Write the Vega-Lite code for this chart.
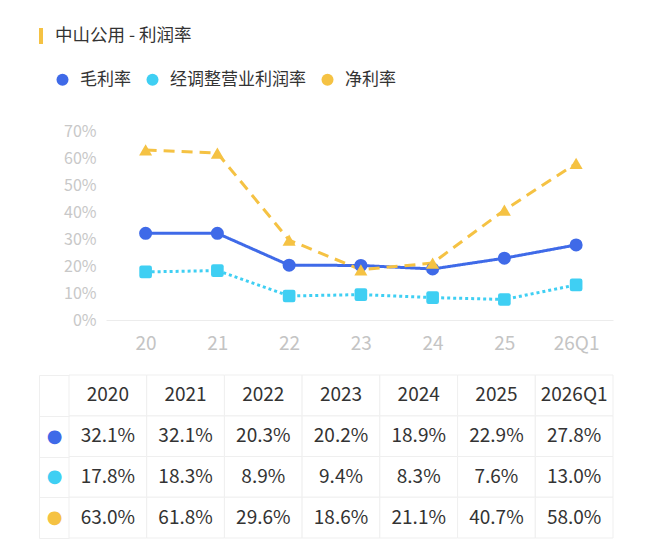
{
  "$schema": "https://vega.github.io/schema/vega-lite/v6.json",
  "background": "white",
  "padding": {"left": 38, "top": 26, "right": 0, "bottom": 0},
  "config": {
    "font": "Noto Sans CJK SC",
    "view": {"stroke": null},
    "axis": {"labelFont": "Noto Sans CJK SC"},
    "legend": {"labelFont": "Noto Sans CJK SC"}
  },
  "datasets": {
    "header": [{"label": "中山公用 - 利润率"}],
    "margins": [
      {"series": "经调整营业利润率", "year": "2020", "value": 0.178},
      {"series": "经调整营业利润率", "year": "2021", "value": 0.183},
      {"series": "经调整营业利润率", "year": "2022", "value": 0.089},
      {"series": "经调整营业利润率", "year": "2023", "value": 0.094},
      {"series": "经调整营业利润率", "year": "2024", "value": 0.083},
      {"series": "经调整营业利润率", "year": "2025", "value": 0.076},
      {"series": "经调整营业利润率", "year": "2026Q1", "value": 0.130},
      {"series": "毛利率", "year": "2020", "value": 0.321},
      {"series": "毛利率", "year": "2021", "value": 0.321},
      {"series": "毛利率", "year": "2022", "value": 0.203},
      {"series": "毛利率", "year": "2023", "value": 0.202},
      {"series": "毛利率", "year": "2024", "value": 0.189},
      {"series": "毛利率", "year": "2025", "value": 0.229},
      {"series": "毛利率", "year": "2026Q1", "value": 0.278},
      {"series": "净利率", "year": "2020", "value": 0.630},
      {"series": "净利率", "year": "2021", "value": 0.618},
      {"series": "净利率", "year": "2022", "value": 0.296},
      {"series": "净利率", "year": "2023", "value": 0.186},
      {"series": "净利率", "year": "2024", "value": 0.211},
      {"series": "净利率", "year": "2025", "value": 0.407},
      {"series": "净利率", "year": "2026Q1", "value": 0.580}
    ]
  },
  "columns": 1,
  "bounds": "flush",
  "spacing": 55,
  "concat": [
    {
      "width": 574,
      "height": 16,
      "data": {"name": "header"},
      "encoding": {
        "x": {"field": "label", "type": "nominal", "scale": {"type": "point", "padding": 0, "align": 0}, "axis": null}
      },
      "layer": [
        {"mark": {"type": "rule", "stroke": "#F5C243", "strokeWidth": 4, "xOffset": 2}},
        {"mark": {"type": "text", "align": "left", "baseline": "middle", "dx": 16, "fontSize": 17.5, "color": "#333333"},
         "encoding": {"text": {"field": "label"}}}
      ]
    },
    {
      "width": 574,
      "height": 221,
      "data": {"name": "margins"},
      "encoding": {
        "x": {"field": "year", "type": "ordinal", "sort": null,
              "scale": {"type": "point", "padding": 1.0, "align": 0.743},
              "axis": {"title": null, "labelExpr": "substring(datum.value, 2)", "domain": false, "ticks": false, "grid": false,
                       "labelColor": "#c4c4c4", "labelFontSize": 19, "labelPadding": 14, "labelAngle": 0}},
        "y": {"field": "value", "type": "quantitative",
              "scale": {"domain": [0, 0.8186], "nice": false},
              "axis": {"title": null, "values": [0, 0.1, 0.2, 0.3, 0.4, 0.5, 0.6, 0.7], "format": ".0%", "domain": false, "grid": false,
                       "offset": -67, "ticks": true, "tickSize": -507,
                       "tickColor": {"condition": {"test": "datum.value === 0", "value": "#ececec"}, "value": "rgba(255,255,255,0)"},
                       "labelColor": "#c8c8c8", "labelFontSize": 16, "labelPadding": 517}},
        "color": {"field": "series", "type": "nominal",
                  "scale": {"domain": ["毛利率", "经调整营业利润率", "净利率"], "range": ["#3F6AE8", "#3FCFF3", "#F5C243"]},
                  "legend": {"title": null, "orient": "none", "legendX": 15, "legendY": 43, "direction": "horizontal",
                             "padding": 0, "symbolType": "circle", "symbolSize": 144, "symbolStrokeWidth": 0, "symbolOpacity": 1,
                             "labelFontSize": 17, "labelColor": "#333333", "labelOffset": 9, "columnPadding": 13}}
      },
      "layer": [
        {
          "mark": {"type": "line", "strokeWidth": 3},
          "encoding": {
            "strokeDash": {"field": "series", "type": "nominal",
                           "scale": {"domain": ["毛利率", "经调整营业利润率", "净利率"], "range": [[1, 0], [3, 3], [11, 7]]},
                           "legend": null}
          }
        },
        {
          "transform": [{"filter": "datum.series == '经调整营业利润率'"}],
          "mark": {"type": "point", "filled": true, "opacity": 1, "size": 160, "strokeWidth": 0,
                   "shape": "M-0.65,-1H0.65Q1,-1,1,-0.65V0.65Q1,1,0.65,1H-0.65Q-1,1,-1,0.65V-0.65Q-1,-1,-0.65,-1Z"}
        },
        {
          "transform": [{"filter": "datum.series == '毛利率'"}],
          "mark": {"type": "point", "filled": true, "opacity": 1, "size": 170, "strokeWidth": 0, "shape": "circle"}
        },
        {
          "transform": [{"filter": "datum.series == '净利率'"}],
          "mark": {"type": "point", "filled": true, "opacity": 1, "size": 170, "strokeWidth": 0, "shape": "triangle-up"}
        }
      ]
    },
    {
      "width": 574,
      "height": 163,
      "data": {"name": "margins"},
      "encoding": {
        "x": {"field": "year", "type": "ordinal", "sort": null,
              "scale": {"type": "band", "paddingInner": 0, "paddingOuter": 0.193, "align": 1}, "axis": null},
        "y": {"field": "series", "type": "nominal",
              "scale": {"type": "band", "domain": ["年份", "毛利率", "经调整营业利润率", "净利率"], "paddingInner": 0, "paddingOuter": 0},
              "axis": {"title": null, "orient": "left", "domain": true, "domainColor": "#efefef",
                       "ticks": true, "tickBand": "extent", "tickSize": -30, "tickColor": "#efefef",
                       "labelExpr": "indexof(['毛利率', '经调整营业利润率', '净利率'], datum.value) >= 0 ? '●' : ''",
                       "labelAlign": "center", "labelBaseline": "middle",
                       "labelPadding": 15, "labelFontSize": 18, "labelFont": "DejaVu Sans",
                       "labelColor": {"condition": [{"test": "datum.value == '毛利率'", "value": "#3F6AE8"},
                                                    {"test": "datum.value == '经调整营业利润率'", "value": "#3FCFF3"}],
                                      "value": "#F5C243"}}}
      },
      "layer": [
        {"mark": {"type": "rect", "fill": "white", "stroke": "#efefef", "strokeWidth": 1}},
        {"transform": [{"filter": "datum.series == '毛利率'"}],
         "mark": {"type": "rect", "fill": "white", "stroke": "#efefef", "strokeWidth": 1},
         "encoding": {"y": {"datum": "年份", "type": "nominal"}}},
        {"mark": {"type": "text", "fontSize": 19, "color": "#333333"},
         "encoding": {"text": {"field": "value", "type": "quantitative", "format": ".1%"}}},
        {"transform": [{"filter": "datum.series == '毛利率'"}],
         "mark": {"type": "text", "fontSize": 19, "color": "#333333"},
         "encoding": {"y": {"datum": "年份", "type": "nominal"}, "text": {"field": "year", "type": "nominal"}}}
      ]
    }
  ]
}
